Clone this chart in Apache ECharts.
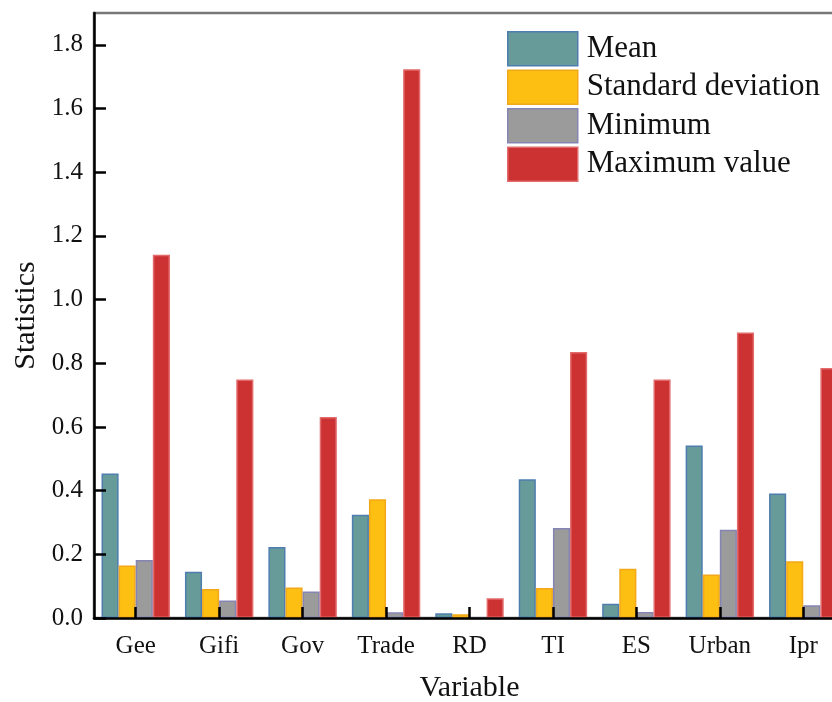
<!DOCTYPE html>
<html>
<head>
<meta charset="utf-8">
<script src="https://cdn.jsdelivr.net/npm/echarts@6/dist/echarts.min.js"></script>
<style>
html,body{margin:0;padding:0;background:#fff;}
#chart{width:832px;height:702px;}
</style>
</head>
<body>
<div id="chart"></div>
<script>
var categories = ['Gee', 'Gifi', 'Gov', 'Trade', 'RD', 'TI', 'ES', 'Urban', 'Ipr'];
var meanValues = [0.454, 0.145, 0.223, 0.324, 0.015, 0.436, 0.045, 0.542, 0.391];
var sdValues   = [0.165, 0.091, 0.096, 0.373, 0.012, 0.094, 0.155, 0.137, 0.178];
var minValues  = [0.182, 0.055, 0.083, 0.018, 0.001, 0.283, 0.019, 0.277, 0.040];
var maxValues  = [1.141, 0.749, 0.631, 1.723, 0.062, 0.835, 0.749, 0.897, 0.785];
var seriesNames = ['Mean', 'Standard deviation', 'Minimum', 'Maximum value'];
var yTickValues = [0, 0.2, 0.4, 0.6, 0.8, 1.0, 1.2, 1.4, 1.6, 1.8];

var FONT = "'Liberation Serif', 'Times New Roman', serif";
var fills   = ['#679B99', '#FDBF12', '#9B9B9B', '#CD3233'];
var borders = ['#4E7DB0', '#F2A81A', '#8585B5', '#E36A6A'];
var dataSets = [meanValues, sdValues, minValues, maxValues];

var chart = echarts.init(document.getElementById('chart'), null, {renderer: 'canvas'});
var option = {
  backgroundColor: '#ffffff',
  animation: false,
  grid: {
    left: 94, top: 13, right: -13, bottom: 84,
    outerBoundsMode: 'none',
    containLabel: false,
    show: true, borderColor: '#777777', borderWidth: 2.5, backgroundColor: 'transparent'
  },
  legend: {
    orient: 'vertical', left: 507, top: 31, padding: 0,
    itemWidth: 70, itemHeight: 34, itemGap: 3,
    icon: 'rect',
    data: seriesNames,
    textStyle: {fontFamily: FONT, fontSize: 31, lineHeight: 34, color: '#111', padding: [0,0,0,4]},
    itemStyle: {borderWidth: 1.5}
  },
  xAxis: {
    type: 'category',
    data: categories,
    z: 10,
    name: 'Variable',
    nameLocation: 'middle',
    nameGap: 55,
    nameTextStyle: {fontFamily: FONT, fontSize: 30, color: '#111'},
    axisLine: {lineStyle: {color: '#000', width: 2.5}},
    axisTick: {show: true, inside: true, alignWithLabel: true, length: 11, lineStyle: {color: '#000', width: 2.5}},
    axisLabel: {fontFamily: FONT, fontSize: 25, color: '#111', margin: 16, interval: 0},
    splitLine: {show: false}
  },
  yAxis: {
    type: 'value',
    min: 0, max: 1.9, interval: 0.2,
    z: 10,
    name: 'Statistics',
    nameLocation: 'middle',
    nameGap: 52,
    nameTextStyle: {fontFamily: FONT, fontSize: 30, color: '#111'},
    axisLine: {show: true, lineStyle: {color: '#000', width: 2.5}},
    axisTick: {show: true, inside: true, length: 12, lineStyle: {color: '#000', width: 2.5}},
    axisLabel: {
      fontFamily: FONT, fontSize: 25, color: '#111', margin: 11, showMaxLabel: false,
      formatter: function (v) {
        for (var i = 0; i < yTickValues.length; i++) {
          if (Math.abs(yTickValues[i] - v) < 1e-6) return yTickValues[i].toFixed(1);
        }
        return '';
      }
    },
    splitLine: {show: false}
  },
  series: dataSets.map(function (d, i) {
    return {
      name: seriesNames[i],
      type: 'bar',
      data: d,
      barGap: '0%',
      barCategoryGap: '18%',
      itemStyle: {color: fills[i], borderColor: borders[i], borderWidth: 1.5}
    };
  })
};
chart.setOption(option);
</script>
</body>
</html>
